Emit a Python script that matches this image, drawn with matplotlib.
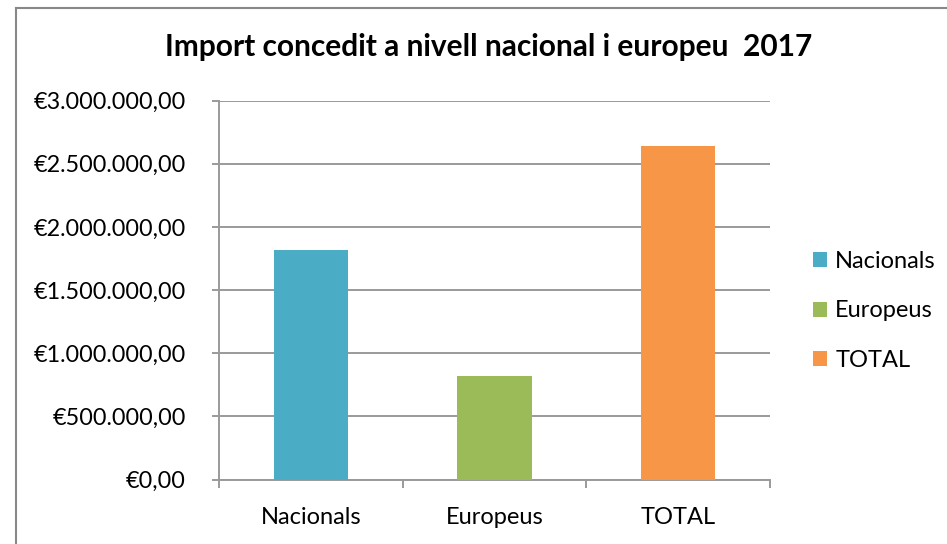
import matplotlib
matplotlib.use("Agg")
import matplotlib.pyplot as plt
from matplotlib.lines import Line2D
from matplotlib.patches import Patch
from matplotlib.ticker import FuncFormatter, MultipleLocator

# dades llegides del gràfic
categories = ["Nacionals", "Europeus", "TOTAL"]
values = [1818000, 822000, 2640000]
colors = ["#4BACC6", "#9BBB59", "#F79646"]
title = "Import concedit a nivell nacional i europeu  2017"

plt.rcParams["font.family"] = ["Lato", "DejaVu Sans"]
GRAY = "#9a9a9a"


def euro(v, pos=None):
    s = f"{v:,.2f}".replace(",", "X").replace(".", ",").replace("X", ".")
    return "€" + s


fig = plt.figure(figsize=(9.47, 5.44), dpi=100)
ax = fig.add_axes([219 / 947, 1 - 479.5 / 544, (770 - 219) / 947, (479.5 - 100.7) / 544])

x = range(len(categories))
ax.bar(x, values, width=0.405, color=colors, zorder=3)

ax.set_xlim(-0.5, len(categories) - 0.5)
ax.set_ylim(0, 3000000)
ax.yaxis.set_major_locator(MultipleLocator(500000))
ax.yaxis.set_major_formatter(FuncFormatter(euro))
ax.grid(axis="y", color=GRAY, lw=1.4, zorder=0)

ax.set_xticks(list(x))
ax.set_xticklabels(categories)
ax.set_xticks([i - 0.5 for i in range(len(categories) + 1)], minor=True)
ax.tick_params(axis="x", which="major", length=0, pad=20, labelsize=17)
ax.tick_params(axis="x", which="minor", length=6, width=1.4, color=GRAY, direction="out")
ax.tick_params(axis="y", length=5, width=1.4, color=GRAY, pad=19, labelsize=16.8)

for side in ("top", "right"):
    ax.spines[side].set_visible(False)
for side in ("left", "bottom"):
    ax.spines[side].set_color(GRAY)
    ax.spines[side].set_linewidth(1.4)

handles = [Patch(facecolor=c, edgecolor="none") for c in colors]
fig.legend(handles, categories, loc="center left", bbox_to_anchor=(801 / 947, 1 - 311 / 544),
           frameon=False, fontsize=17, handlelength=0.6, handleheight=0.6,
           handletextpad=0.35, labelspacing=1.2, borderpad=0)

fig.text(489 / 947, 1 - 47 / 544, title, ha="center", va="center",
         fontsize=21.5, fontweight="bold")

# vora del gràfic (només es veuen els costats superior i esquerre)
fig.add_artist(Line2D([15.5 / 947, 15.5 / 947], [0, 1 - 7.5 / 544], color="#888888", lw=1.5))
fig.add_artist(Line2D([15.5 / 947, 1], [1 - 7.5 / 544, 1 - 7.5 / 544], color="#888888", lw=1.5))

fig.savefig("out.png", dpi=100)
